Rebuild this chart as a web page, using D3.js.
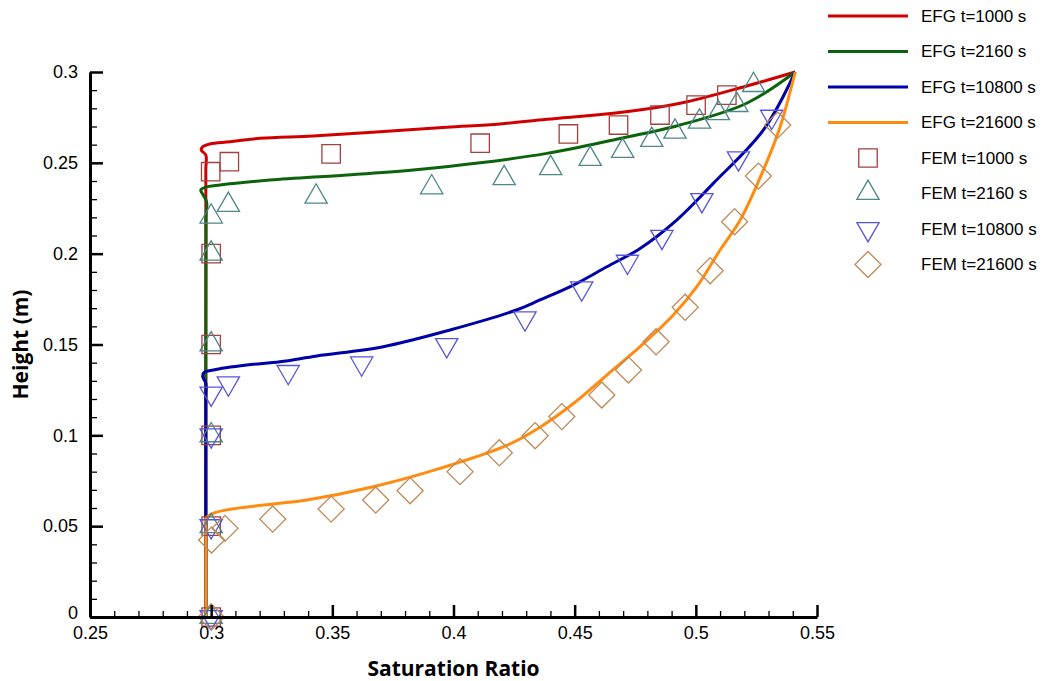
<!DOCTYPE html>
<html>
<head>
<meta charset="utf-8">
<script src="https://cdn.jsdelivr.net/npm/d3@7"></script>
<style>
  body { margin: 0; background: #fff; }
  svg { display: block; }
</style>
</head>
<body>
<div id="chart"></div>
<script>
// 축 눈금
const xTicks = [0.25, 0.3, 0.35, 0.4, 0.45, 0.5, 0.55];
const xTickLabels = ["0.25", "0.3", "0.35", "0.4", "0.45", "0.5", "0.55"];
const yTicks = [0, 0.05, 0.1, 0.15, 0.2, 0.25, 0.3];
const yTickLabels = ["0", "0.05", "0.1", "0.15", "0.2", "0.25", "0.3"];

// EFG 곡선 (Saturation Ratio, Height)
const efg1000X = [0.2978, 0.2978, 0.2978, 0.2978, 0.2959, 0.2966, 0.2995, 0.3078, 0.3202, 0.342, 0.3697, 0.3972, 0.4192, 0.4385, 0.466, 0.4935, 0.521, 0.541];
const efg1000Y = [0, 0.01, 0.246, 0.2543, 0.2571, 0.2589, 0.2604, 0.2616, 0.2635, 0.2648, 0.2671, 0.2696, 0.2714, 0.274, 0.2773, 0.2828, 0.2923, 0.3];

const efg2160X = [0.2978, 0.2978, 0.2979, 0.2981, 0.2967, 0.2957, 0.2975, 0.3037, 0.3243, 0.356, 0.3834, 0.411, 0.4385, 0.466, 0.4935, 0.521, 0.541];
const efg2160Y = [0, 0.01, 0.22, 0.2286, 0.2323, 0.235, 0.2365, 0.2378, 0.2405, 0.2433, 0.2461, 0.25, 0.2552, 0.2626, 0.2708, 0.2828, 0.3];

const efg10800X = [0.2978, 0.2978, 0.2978, 0.2978, 0.2965, 0.297, 0.3009, 0.3147, 0.3284, 0.3436, 0.371, 0.3986, 0.426, 0.4357, 0.4495, 0.4633, 0.477, 0.4921, 0.5072, 0.5279, 0.541];
const efg10800Y = [0, 0.01, 0.12, 0.1286, 0.1323, 0.1345, 0.136, 0.1387, 0.1405, 0.1437, 0.1488, 0.158, 0.169, 0.1745, 0.1827, 0.1928, 0.2029, 0.2185, 0.2387, 0.2681, 0.3];

const efg21600X = [0.2978, 0.2978, 0.2978, 0.2978, 0.3009, 0.3078, 0.3284, 0.3394, 0.3669, 0.3944, 0.422, 0.4357, 0.4495, 0.4633, 0.477, 0.4907, 0.5004, 0.51, 0.5183, 0.5279, 0.5348, 0.541];
const efg21600Y = [0, 0.008, 0.047, 0.0543, 0.0571, 0.0593, 0.0626, 0.0644, 0.0717, 0.0818, 0.0945, 0.1045, 0.1175, 0.1332, 0.1488, 0.1662, 0.1818, 0.202, 0.2185, 0.2461, 0.2699, 0.3];

// FEM 점
const fem1000X = [0.3, 0.3, 0.3, 0.3, 0.3, 0.2998, 0.3075, 0.3495, 0.411, 0.4474, 0.4681, 0.4852, 0.5001, 0.5128];
const fem1000Y = [0, 0.05, 0.1, 0.15, 0.2, 0.2451, 0.2506, 0.2549, 0.2608, 0.2659, 0.2708, 0.2763, 0.2818, 0.2873];

const fem2160X = [0.3, 0.3, 0.3, 0.3, 0.3, 0.3, 0.3071, 0.3433, 0.391, 0.4209, 0.4401, 0.4564, 0.4698, 0.4818, 0.4914, 0.5015, 0.5093, 0.5169, 0.5238];
const fem2160Y = [0, 0.05, 0.1, 0.15, 0.2, 0.2204, 0.2268, 0.2314, 0.2365, 0.2415, 0.247, 0.2521, 0.2565, 0.2626, 0.2671, 0.2726, 0.2773, 0.2818, 0.2928];

const fem10800X = [0.3, 0.3, 0.3, 0.3, 0.3071, 0.3318, 0.3621, 0.3972, 0.4295, 0.4529, 0.4718, 0.486, 0.5025, 0.5176, 0.5313];
const fem10800Y = [0, 0.05, 0.1, 0.123, 0.1286, 0.1349, 0.1396, 0.1497, 0.1644, 0.1809, 0.1956, 0.2093, 0.2295, 0.2525, 0.2754];

const fem21600X = [0.3, 0.3002, 0.3057, 0.3254, 0.3495, 0.3679, 0.3821, 0.4027, 0.4189, 0.4337, 0.4447, 0.4612, 0.4722, 0.4836, 0.4956, 0.5059, 0.516, 0.5258, 0.5338];
const fem21600Y = [0, 0.0424, 0.0488, 0.0539, 0.0594, 0.0644, 0.0695, 0.08, 0.0904, 0.0998, 0.1103, 0.1222, 0.136, 0.1515, 0.1705, 0.1906, 0.2176, 0.2427, 0.2708];

// SVG 크기 설정
const width = 1043;
const height = 681;
const tickFont = "'Liberation Sans', Arial, sans-serif";

const svg = d3.select("#chart")
    .append("svg")
    .attr("width", width)
    .attr("height", height)
    .style("font-family", tickFont);

const x = d3.scaleLinear().domain([0.25, 0.55]).range([90, 817]);
const y = d3.scaleLinear().domain([0, 0.3]).range([617, 72]);

const zip = (xs, ys) => xs.map((v, i) => [v, ys[i]]);

const lineSeries = [
    { name: "EFG t=1000 s", color: "#d00000", pts: zip(efg1000X, efg1000Y) },
    { name: "EFG t=2160 s", color: "#0b640b", pts: zip(efg2160X, efg2160Y) },
    { name: "EFG t=10800 s", color: "#0000a8", pts: zip(efg10800X, efg10800Y) },
    { name: "EFG t=21600 s", color: "#ff8c10", pts: zip(efg21600X, efg21600Y) }
];

const markerSeries = [
    { name: "FEM t=1000 s", color: "#a4403e", shape: "square", pts: zip(fem1000X, fem1000Y) },
    { name: "FEM t=2160 s", color: "#4d8787", shape: "up", pts: zip(fem2160X, fem2160Y) },
    { name: "FEM t=10800 s", color: "#5656dc", shape: "down", pts: zip(fem10800X, fem10800Y) },
    { name: "FEM t=21600 s", color: "#c08a58", shape: "diamond", pts: zip(fem21600X, fem21600Y) }
];

// 마커 모양
const squareSym = d3.symbol().type(d3.symbolSquare).size(340);
const triSym = d3.symbol().type(d3.symbolTriangle).size(215);
function markerPath(shape) {
    return shape === "up" || shape === "down" ? triSym() : squareSym();
}
function markerRotate(shape) {
    if (shape === "down") return 180;
    if (shape === "diamond") return 45;
    return 0;
}

// 선 그리기
const line = d3.line()
    .x(d => x(d[0]))
    .y(d => y(d[1]))
    .curve(d3.curveCatmullRom.alpha(0.5));

svg.append("g")
    .selectAll("path")
    .data(lineSeries)
    .join("path")
    .attr("d", d => line(d.pts))
    .attr("fill", "none")
    .attr("stroke", d => d.color)
    .attr("stroke-width", 3)
    .attr("stroke-linejoin", "round");

// 마커 그리기
markerSeries.forEach(s => {
    svg.append("g")
        .selectAll("path")
        .data(s.pts)
        .join("path")
        .attr("d", markerPath(s.shape))
        .attr("transform", d => `translate(${x(d[0])},${y(d[1])}) rotate(${markerRotate(s.shape)})`)
        .attr("fill", "none")
        .attr("stroke", s.color)
        .attr("stroke-width", 1.3);
});

// 축
const minorX = d3.range(0.25, 0.5501, 0.01).filter(v => Math.abs(Math.round(v * 20) - v * 20) > 1e-6);
const minorY = d3.range(0, 0.3001, 0.01).filter(v => Math.abs(Math.round(v * 20) - v * 20) > 1e-6);

const xMinor = svg.append("g")
    .attr("transform", `translate(0,${y(0)})`)
    .call(d3.axisBottom(x).tickValues(minorX).tickSize(-6).tickSizeOuter(0).tickFormat(""));
xMinor.select(".domain").remove();
xMinor.selectAll("line").attr("stroke-width", 1.3);

const yMinor = svg.append("g")
    .attr("transform", `translate(${x(0.25)},0)`)
    .call(d3.axisLeft(y).tickValues(minorY).tickSize(-7).tickSizeOuter(0).tickFormat(""));
yMinor.select(".domain").remove();
yMinor.selectAll("line").attr("stroke-width", 1.3);

const xAxis = svg.append("g")
    .attr("transform", `translate(0,${y(0)})`)
    .call(d3.axisBottom(x).tickValues(xTicks).tickSize(-12).tickSizeOuter(0)
        .tickPadding(9).tickFormat((d, i) => xTickLabels[i]));
xAxis.select(".domain").attr("stroke-width", 3);
xAxis.selectAll("line").attr("stroke-width", 2.5);
xAxis.selectAll("text").attr("font-size", 18).attr("font-family", tickFont).attr("fill", "#000");

const yAxis = svg.append("g")
    .attr("transform", `translate(${x(0.25)},0)`)
    .call(d3.axisLeft(y).tickValues(yTicks).tickSize(-13).tickSizeOuter(0)
        .tickPadding(12).tickFormat((d, i) => yTickLabels[i]));
yAxis.select(".domain").attr("stroke-width", 3);
yAxis.selectAll("line").attr("stroke-width", 2.5);
yAxis.selectAll("text").attr("font-size", 18).attr("font-family", tickFont).attr("fill", "#000");
// "0" 라벨은 x축 라벨과 겹치지 않도록 살짝 위로
yAxis.selectAll(".tick text").filter(d => d === 0).attr("dy", "0.1em");

// 축 제목
svg.append("text")
    .attr("x", x(0.4))
    .attr("y", 676)
    .attr("text-anchor", "middle")
    .attr("font-family", "'Open Sans', sans-serif")
    .attr("font-weight", 700)
    .attr("font-size", 21)
    .text("Saturation Ratio");

svg.append("text")
    .attr("transform", `translate(28,${y(0.15)}) rotate(-90)`)
    .attr("text-anchor", "middle")
    .attr("font-family", "'Open Sans', sans-serif")
    .attr("font-weight", 700)
    .attr("font-size", 21)
    .text("Height (m)");

// 범례
const legendY = [16, 51.5, 87, 122.5, 158, 193, 229, 264.5];
const legend = svg.append("g");
lineSeries.forEach((s, i) => {
    legend.append("line")
        .attr("x1", 828).attr("x2", 908)
        .attr("y1", legendY[i]).attr("y2", legendY[i])
        .attr("stroke", s.color)
        .attr("stroke-width", 3);
    legend.append("text")
        .attr("x", 921).attr("y", legendY[i])
        .attr("dy", "0.35em")
        .attr("font-size", 17)
        .text(s.name);
});
markerSeries.forEach((s, i) => {
    const ly = legendY[i + 4];
    legend.append("path")
        .attr("d", markerPath(s.shape))
        .attr("transform", `translate(868,${ly}) rotate(${markerRotate(s.shape)})`)
        .attr("fill", "none")
        .attr("stroke", s.color)
        .attr("stroke-width", 1.3);
    legend.append("text")
        .attr("x", 921).attr("y", ly)
        .attr("dy", "0.35em")
        .attr("font-size", 17)
        .text(s.name);
});
</script>
</body>
</html>
